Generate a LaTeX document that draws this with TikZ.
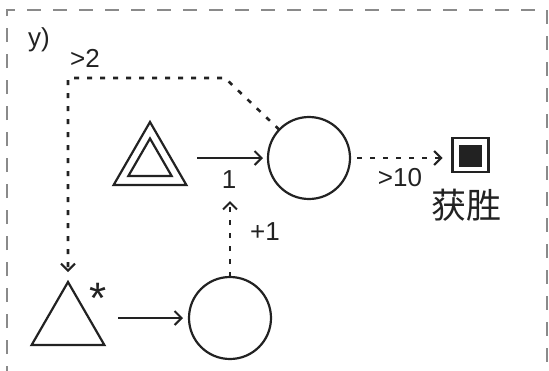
\documentclass[tikz,border=0pt]{standalone}
\usepackage{fontspec}
\setmainfont{Liberation Sans}
\newfontfamily\cjk{Noto Sans CJK SC}
\usetikzlibrary{arrows.meta,shapes.geometric}
\definecolor{inkc}{HTML}{222222}
\definecolor{framec}{HTML}{8A8A8A}
\begin{document}
\begin{tikzpicture}[x=1pt,y=-1pt,
  ink/.style={draw=inkc, line width=2.2pt},
  circ/.style={ink, circle, minimum size=82pt, inner sep=0pt, outer sep=0pt},
  tri/.style={ink, regular polygon, regular polygon sides=3, inner sep=0pt, outer sep=0pt},
  lab/.style={font=\fontsize{26}{30}\selectfont, text=inkc, inner sep=0pt},
  tip/.style={-{Straight Barb[length=7pt,width=14pt,line width=2.1pt]}},
  solidarrow/.style={ink, tip},
  dotarrow/.style={draw=inkc, line width=2.6pt, dash pattern=on 5pt off 8pt, tip},
  framebox/.style={draw=framec, line width=1.6pt, dash pattern=on 14pt off 12pt}
]
\useasboundingbox (0,0) rectangle (549,370);
\clip (0,0) rectangle (549,370);
\draw[framebox] (7,380) -- (7,10) -- (547,10) -- (547,380);

% nodes
\node[tri, minimum size=84pt] (t1) at (150,164) {};
\node[tri, minimum size=50pt] (t1in) at (150,163.5) {};
\node[circ] (c1) at (309,158) {};
\node[ink, rectangle, minimum width=36pt, minimum height=34pt, inner sep=0pt, outer sep=0pt] (sq) at (470.5,155) {};
\node[fill=inkc, rectangle, minimum width=23pt, minimum height=22pt, inner sep=0pt] (sqin) at (470.5,155.5) {};
\node[tri, minimum size=84pt] (t2) at (68,324) {};
\node[circ] (c2) at (230,318) {};
\coordinate (k1) at (225,78);
\coordinate (k2) at (68,78);
\coordinate (up) at (230,201);

% labels
\node[lab] (ly) at (39,40) {y)};
\node[lab] (l2) at (85,58) {>2};
\node[lab] (l1) at (229,180) {1};
\node[lab] (lp1) at (265,232) {+1};
\node[lab] (l10) at (400,178) {>10};
\node[font=\fontsize{44}{48}\selectfont, text=inkc, inner sep=0pt, anchor=north] (ast) at (98,283) {*};
\node[font=\cjk\fontsize{35}{40}\selectfont, text=inkc, inner sep=0pt] (win) at (466,205) {获胜};

% connectors
\draw[solidarrow, shorten <=23pt, shorten >=5pt] (t1.east |- c1.west) -- (c1.west);
\draw[solidarrow, shorten <=26pt, shorten >=6pt] (t2.east |- c2.west) -- (c2.west);
\draw[dotarrow, shorten <=7pt, shorten >=10pt] (c1.east) -- (c1.east -| sq.west);
\draw[dotarrow] (c2) -- (up);
\draw[dotarrow, shorten >=10pt] (c1) -- (k1) -- (k2) -- (t2);
\end{tikzpicture}
\end{document}
